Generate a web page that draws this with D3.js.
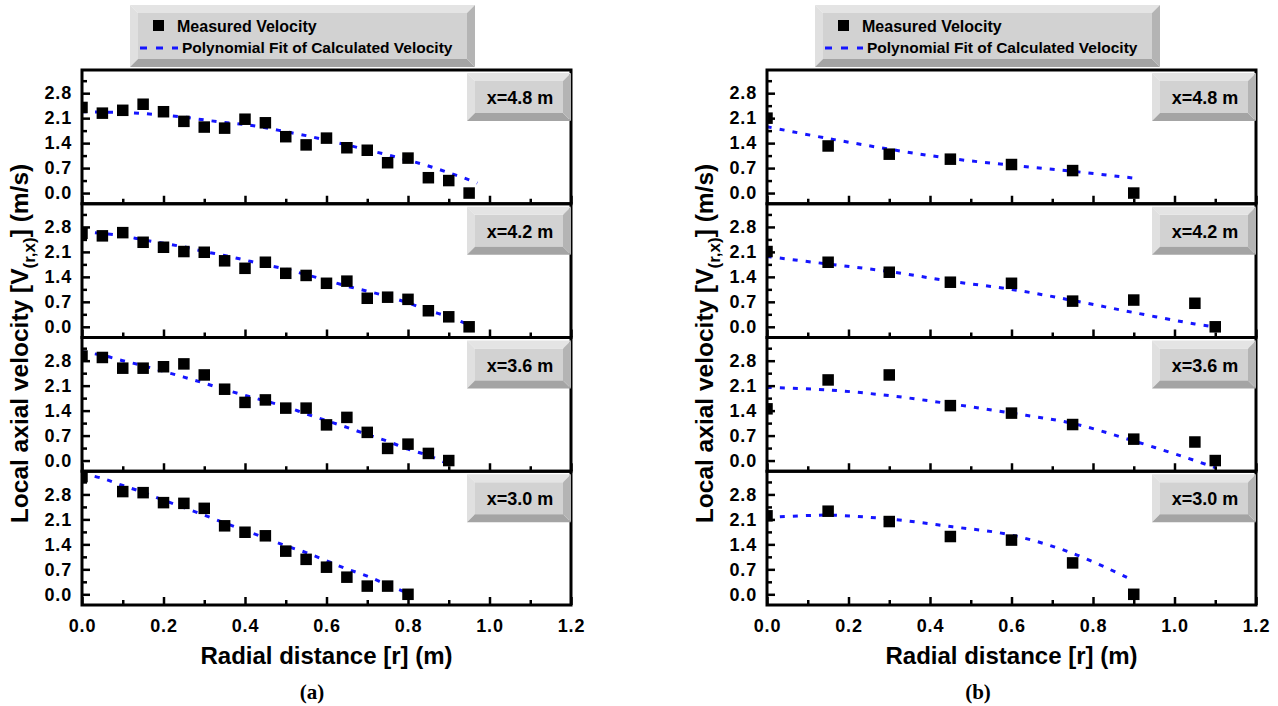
<!DOCTYPE html>
<html>
<head>
<meta charset="utf-8">
<script src="https://cdnjs.cloudflare.com/ajax/libs/d3/7.8.5/d3.min.js"></script>
<style>
  body { margin: 0; background: #fff; }
  svg { display: block; }
  text { font-family: Arial, "Liberation Sans", sans-serif; font-weight: bold; }
</style>
</head>
<body>
<div id="chart"></div>
<script>
// tick values
var xTicks = [0, 0.2, 0.4, 0.6, 0.8, 1.0, 1.2];
var xMinor = [0.1, 0.3, 0.5, 0.7, 0.9, 1.1];
var yTicks = [0, 0.7, 1.4, 2.1, 2.8];
var yMinor = [0.35, 1.05, 1.75, 2.45, 3.15];

var panelLabels = ["x=4.8 m", "x=4.2 m", "x=3.6 m", "x=3.0 m"];
var figLabels = ["(a)", "(b)"];

// (a) measured velocity
var rA = [0, 0.05, 0.1, 0.15, 0.2, 0.25, 0.3, 0.35, 0.4, 0.45, 0.5, 0.55, 0.6, 0.65, 0.7, 0.75, 0.8, 0.85, 0.9, 0.95];
var measA48 = [2.40, 2.24, 2.32, 2.49, 2.28, 2.01, 1.85, 1.82, 2.07, 1.97, 1.58, 1.35, 1.54, 1.27, 1.20, 0.85, 0.98, 0.43, 0.35, 0.0];
var measA42 = [2.62, 2.55, 2.64, 2.37, 2.23, 2.11, 2.09, 1.85, 1.64, 1.81, 1.50, 1.44, 1.22, 1.28, 0.80, 0.83, 0.77, 0.45, 0.28, 0.0];
var rA36 = [0, 0.05, 0.1, 0.15, 0.2, 0.25, 0.3, 0.35, 0.4, 0.45, 0.5, 0.55, 0.6, 0.65, 0.7, 0.75, 0.8, 0.85, 0.9];
var measA36 = [2.93, 2.89, 2.59, 2.59, 2.63, 2.71, 2.40, 2.00, 1.63, 1.70, 1.47, 1.47, 1.00, 1.21, 0.79, 0.34, 0.46, 0.20, 0.0];
var rA30 = [0, 0.1, 0.15, 0.2, 0.25, 0.3, 0.35, 0.4, 0.45, 0.5, 0.55, 0.6, 0.65, 0.7, 0.75, 0.8];
var measA30 = [3.30, 2.88, 2.85, 2.57, 2.55, 2.41, 1.92, 1.74, 1.64, 1.21, 0.98, 0.76, 0.48, 0.23, 0.23, 0.0];

// (a) polynomial fit
var rFitA48 = [0, 0.05, 0.1, 0.15, 0.2, 0.25, 0.3, 0.35, 0.4, 0.45, 0.5, 0.55, 0.6, 0.65, 0.7, 0.75, 0.8, 0.85, 0.9, 0.95, 0.97];
var fitA48 = [2.28, 2.27, 2.26, 2.23, 2.18, 2.13, 2.05, 1.98, 1.92, 1.83, 1.72, 1.61, 1.48, 1.35, 1.21, 1.07, 0.92, 0.76, 0.57, 0.37, 0.28];
var fitA42 = [2.67, 2.62, 2.55, 2.44, 2.34, 2.24, 2.11, 2.00, 1.87, 1.74, 1.62, 1.46, 1.31, 1.14, 1.00, 0.85, 0.67, 0.46, 0.28, 0.05];
var fitA36 = [3.05, 2.95, 2.80, 2.66, 2.50, 2.34, 2.17, 1.99, 1.83, 1.67, 1.51, 1.31, 1.12, 0.93, 0.73, 0.54, 0.32, 0.14, -0.10];
var rFitA30 = [0, 0.05, 0.1, 0.15, 0.2, 0.25, 0.3, 0.35, 0.4, 0.45, 0.5, 0.55, 0.6, 0.65, 0.7, 0.75, 0.8];
var fitA30 = [3.39, 3.25, 3.05, 2.86, 2.64, 2.43, 2.22, 2.00, 1.79, 1.58, 1.36, 1.17, 0.94, 0.71, 0.51, 0.26, 0.03];

// (b) measured velocity
var rB7 = [0, 0.15, 0.3, 0.45, 0.6, 0.75, 0.9];
var rB9 = [0, 0.15, 0.3, 0.45, 0.6, 0.75, 0.9, 1.05, 1.1];
var measB48 = [2.10, 1.32, 1.09, 0.95, 0.80, 0.63, 0.0];
var measB42 = [2.11, 1.81, 1.53, 1.25, 1.22, 0.72, 0.75, 0.66, 0.0];
var measB36 = [1.45, 2.26, 2.40, 1.54, 1.33, 1.01, 0.60, 0.52, 0.0];
var measB30 = [2.20, 2.33, 2.04, 1.62, 1.52, 0.88, 0.0];

// (b) polynomial fit
var fitB48 = [1.86, 1.53, 1.23, 0.97, 0.78, 0.61, 0.42];
var fitB42 = [1.97, 1.76, 1.55, 1.28, 1.05, 0.74, 0.40, 0.08, 0.0];
var fitB36 = [2.05, 1.98, 1.82, 1.59, 1.33, 1.04, 0.55, 0.0, -0.2];
var fitB30 = [2.15, 2.22, 2.11, 1.90, 1.66, 1.15, 0.38];

var figs = [
  { left: 82, label: 312, panels: [
    { r: rA, v: measA48, fr: rFitA48, fv: fitA48 },
    { r: rA, v: measA42, fr: rA, fv: fitA42 },
    { r: rA36, v: measA36, fr: rA36, fv: fitA36 },
    { r: rA30, v: measA30, fr: rFitA30, fv: fitA30 } ] },
  { left: 767, label: 978, panels: [
    { r: rB7, v: measB48, fr: rB7, fv: fitB48 },
    { r: rB9, v: measB42, fr: rB9, fv: fitB42 },
    { r: rB9, v: measB36, fr: rB9, fv: fitB36 },
    { r: rB7, v: measB30, fr: rB7, fv: fitB30 } ] }
];

var W = 1278, H = 706;
var plotW = 489, top0 = 70, ph = 133.75;

var svg = d3.select("#chart").append("svg")
  .attr("width", W).attr("height", H);
svg.append("rect").attr("width", W).attr("height", H).attr("fill", "#fff");

// grey 3d box like the origin legend frames
function bevelBox(g, x, y, w, h, b) {
  g.append("rect").attr("x", x + b).attr("y", y + b)
    .attr("width", w - 2 * b).attr("height", h - 2 * b).attr("fill", "#d2d2d2");
  var pts = [
    [[x, y], [x + w, y], [x + w - b, y + b], [x + b, y + b], "#e4e4e4"],
    [[x, y], [x + b, y + b], [x + b, y + h - b], [x, y + h], "#e0e0e0"],
    [[x, y + h], [x + b, y + h - b], [x + w - b, y + h - b], [x + w, y + h], "#a4a4a4"],
    [[x + w, y], [x + w, y + h], [x + w - b, y + h - b], [x + w - b, y + b], "#b4b4b4"]
  ];
  pts.forEach(function(p) {
    g.append("polygon")
      .attr("points", p.slice(0, 4).map(function(q) { return q.join(","); }).join(" "))
      .attr("fill", p[4]);
  });
}

figs.forEach(function(fig, fi) {
  var g = svg.append("g");
  var x = d3.scaleLinear().domain([0, 1.2]).range([fig.left, fig.left + plotW]);

  fig.panels.forEach(function(p, k) {
    var y0 = top0 + k * ph;
    var y = d3.scaleLinear().domain([-0.3, 3.45]).range([y0 + ph, y0]);
    var clipId = "clip" + fi + k;
    g.append("clipPath").attr("id", clipId).append("rect")
      .attr("x", fig.left).attr("y", y0).attr("width", plotW).attr("height", ph);

    var inner = g.append("g").attr("clip-path", "url(#" + clipId + ")");

    // fit line
    var pts = p.fr.map(function(r, i) { return [r, p.fv[i]]; });
    var line = d3.line()
      .x(function(d) { return x(d[0]); })
      .y(function(d) { return y(d[1]); })
      .curve(d3.curveCatmullRom);
    inner.append("path").datum(pts)
      .attr("d", line)
      .attr("fill", "none")
      .attr("stroke", "#1515ff")
      .attr("stroke-width", 3)
      .attr("stroke-dasharray", "5,8");

    // measured squares
    var sq = 11.5;
    inner.selectAll("rect.m").data(p.r.map(function(r, i) { return [r, p.v[i]]; }))
      .enter().append("rect").attr("class", "m")
      .attr("x", function(d) { return x(d[0]) - sq / 2; })
      .attr("y", function(d) { return y(d[1]) - sq / 2; })
      .attr("width", sq).attr("height", sq)
      .attr("fill", "#000");

    // axes
    var yAx = d3.axisLeft(y).tickValues(yTicks).tickSize(-8).tickPadding(10)
      .tickFormat(d3.format(".1f"));
    var ya = g.append("g").attr("transform", "translate(" + fig.left + ",0)").call(yAx);
    var ym = g.append("g").attr("transform", "translate(" + fig.left + ",0)")
      .call(d3.axisLeft(y).tickValues(yMinor).tickSize(-5).tickFormat(""));

    var xAx = d3.axisBottom(x).tickValues(xTicks).tickSize(-8).tickPadding(14)
      .tickFormat(k === 3 ? d3.format(".1f") : "");
    var xa = g.append("g").attr("transform", "translate(0," + (y0 + ph) + ")").call(xAx);
    var xm = g.append("g").attr("transform", "translate(0," + (y0 + ph) + ")")
      .call(d3.axisBottom(x).tickValues(xMinor).tickSize(-5).tickFormat(""));

    [ya, ym, xa, xm].forEach(function(a) {
      a.select(".domain").remove();
      a.selectAll("line").attr("stroke", "#000").attr("stroke-width", 2.5);
      a.selectAll("text").attr("font-size", 18).attr("letter-spacing", 0.8)
        .attr("fill", "#000").attr("font-family", null);
    });

    // frame
    g.append("rect").attr("x", fig.left).attr("y", y0)
      .attr("width", plotW).attr("height", ph)
      .attr("fill", "none").attr("stroke", "#000").attr("stroke-width", 3);

    // panel label box
    var bx = fig.left + plotW - 104, by = y0 + 3;
    bevelBox(g, bx, by, 104, 48, 8);
    g.append("text").attr("x", bx + 53).attr("y", by + 31)
      .attr("text-anchor", "middle").attr("font-size", 18).attr("fill", "#000")
      .text(panelLabels[k]);
  });

  // legend
  var lx = fig.left + 48, ly = 5;
  bevelBox(g, lx, ly, 345, 62, 8);
  g.append("rect").attr("x", lx + 23).attr("y", ly + 15).attr("width", 11).attr("height", 11)
    .attr("fill", "#000");
  g.append("text").attr("x", lx + 47).attr("y", ly + 27).attr("font-size", 16)
    .text("Measured Velocity");
  g.append("line").attr("x1", lx + 10).attr("x2", lx + 48)
    .attr("y1", ly + 43).attr("y2", ly + 43)
    .attr("stroke", "#1515ff").attr("stroke-width", 3).attr("stroke-dasharray", "7,9");
  g.append("text").attr("x", lx + 52).attr("y", ly + 48).attr("font-size", 15.5)
    .text("Polynomial Fit of Calculated Velocity");

  // axis titles
  var cx = fig.left + plotW / 2;
  g.append("text").attr("x", cx).attr("y", 664).attr("text-anchor", "middle")
    .attr("font-size", 24).text("Radial distance [r] (m)");

  var yt = g.append("text")
    .attr("transform", "translate(" + (fig.left - 54) + "," + (top0 + 2 * ph + 6) + ") rotate(-90)")
    .attr("text-anchor", "middle").attr("font-size", 24.5);
  yt.append("tspan").text("Local axial velocity [V");
  yt.append("tspan").attr("font-size", 17).attr("dy", 7).text("(r,x)");
  yt.append("tspan").attr("dy", -7).text("] (m/s)");

  g.append("text").attr("x", fig.label).attr("y", 699).attr("text-anchor", "middle")
    .attr("font-size", 21)
    .style("font-family", "'Times New Roman', 'Liberation Serif', serif")
    .text(figLabels[fi]);
});
</script>
</body>
</html>
